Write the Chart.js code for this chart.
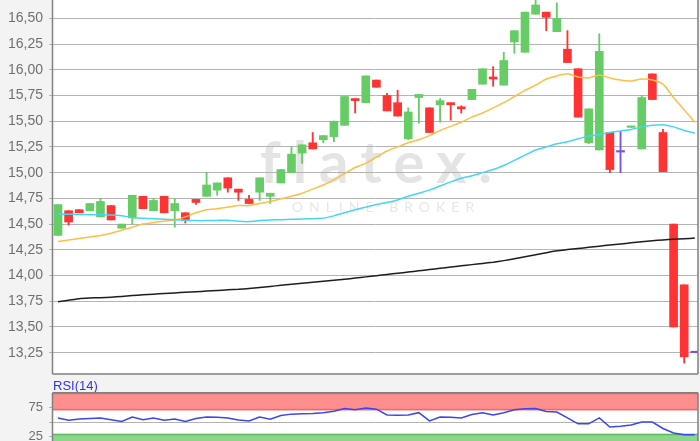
<!DOCTYPE html>
<html>
<head>
<meta charset="utf-8">
<script src="https://cdn.jsdelivr.net/npm/chart.js@4.4.1/dist/chart.umd.min.js"></script>
<style>
  html, body { margin: 0; padding: 0; background: #f3f3f3; overflow: hidden; width: 700px; height: 441px; }
  #main { position: absolute; left: 0; top: 0; }
  #rsi { position: absolute; left: 0; top: 378px; }
</style>
</head>
<body>
<canvas id="main" width="700" height="380"></canvas>
<canvas id="rsi" width="700" height="80"></canvas>
<script>
// daily candles, oldest first
const opens = [
  14.39, 14.63, 14.64, 14.63, 14.57, 14.68, 14.46, 14.56, 14.77, 14.63,
  14.77, 14.63, 14.61, 14.74, 14.77, 14.83, 14.95, 14.84, 14.74, 14.81,
  14.77, 14.90, 15.00, 15.19, 15.29, 15.32, 15.35, 15.46, 15.72, 15.68,
  15.90, 15.75, 15.68, 15.33, 15.73, 15.63, 15.66, 15.68, 15.64, 15.71,
  15.86, 15.93, 15.85, 16.27, 16.17, 16.54, 16.56, 16.37, 16.20, 16.01,
  15.29, 15.22, 15.39, 15.20, 15.44, 15.23, 15.96, 15.39, 14.50, 13.91,
  13.25
];
const highs = [
  14.69, 14.63, 14.64, 14.70, 14.75, 14.68, 14.50, 14.78, 14.77, 14.75,
  14.77, 14.75, 14.61, 14.74, 15.00, 14.90, 14.95, 14.84, 14.78, 14.95,
  14.80, 15.03, 15.25, 15.27, 15.39, 15.36, 15.50, 15.74, 15.72, 15.94,
  15.90, 15.77, 15.80, 15.63, 15.76, 15.63, 15.72, 15.68, 15.65, 15.81,
  16.01, 16.03, 16.17, 16.38, 16.56, 16.72, 16.56, 16.65, 16.38, 16.01,
  15.62, 16.35, 15.39, 15.40, 15.45, 15.75, 15.96, 15.42, 14.50, 13.91,
  13.25
];
const lows = [
  14.39, 14.49, 14.61, 14.63, 14.57, 14.54, 14.46, 14.50, 14.65, 14.63,
  14.61, 14.47, 14.51, 14.69, 14.77, 14.78, 14.81, 14.73, 14.70, 14.73,
  14.70, 14.90, 15.00, 15.09, 15.23, 15.29, 15.30, 15.46, 15.58, 15.68,
  15.83, 15.60, 15.55, 15.32, 15.48, 15.39, 15.49, 15.51, 15.58, 15.71,
  15.86, 15.84, 15.85, 16.16, 16.17, 16.54, 16.38, 16.37, 16.07, 15.54,
  15.28, 15.22, 15.00, 15.00, 15.44, 15.23, 15.71, 15.01, 13.50, 13.15,
  13.25
];
const closes = [
  14.69, 14.52, 14.61, 14.70, 14.72, 14.54, 14.50, 14.78, 14.65, 14.73,
  14.61, 14.70, 14.54, 14.71, 14.88, 14.90, 14.85, 14.81, 14.70, 14.95,
  14.80, 15.03, 15.18, 15.27, 15.23, 15.36, 15.50, 15.74, 15.70, 15.94,
  15.83, 15.60, 15.55, 15.59, 15.76, 15.39, 15.70, 15.66, 15.62, 15.81,
  16.01, 15.91, 16.09, 16.38, 16.56, 16.63, 16.51, 16.50, 16.07, 15.54,
  15.62, 16.18, 15.03, 15.20, 15.45, 15.73, 15.71, 15.01, 13.50, 13.21,
  13.25
];

// moving averages
const ma20 = [
  14.33, 14.345, 14.36, 14.375, 14.39, 14.41, 14.44, 14.47, 14.50, 14.515,
  14.53, 14.54, 14.57, 14.61, 14.64, 14.65, 14.665, 14.68, 14.68, 14.70,
  14.72, 14.745, 14.77, 14.80, 14.84, 14.88, 14.93, 14.99, 15.05, 15.09,
  15.15, 15.21, 15.25, 15.29, 15.32, 15.36, 15.41, 15.45, 15.49, 15.54,
  15.58, 15.63, 15.68, 15.74, 15.80, 15.85, 15.91, 15.94, 15.96, 15.93,
  15.92, 15.95, 15.92, 15.90, 15.89, 15.91, 15.90, 15.86, 15.73, 15.61,
  15.49
];
const ma38 = [
  14.595, 14.595, 14.594, 14.592, 14.590, 14.588, 14.58, 14.565, 14.557, 14.553,
  14.548, 14.543, 14.538, 14.534, 14.534, 14.536, 14.538, 14.528, 14.524, 14.535,
  14.54, 14.543, 14.546, 14.55, 14.553, 14.558, 14.58, 14.61, 14.64, 14.665,
  14.69, 14.71, 14.735, 14.77, 14.80, 14.83, 14.87, 14.91, 14.945, 14.97,
  15.00, 15.03, 15.07, 15.12, 15.17, 15.22, 15.25, 15.28, 15.30, 15.33,
  15.355, 15.37, 15.39, 15.405, 15.42, 15.445, 15.46, 15.465, 15.445, 15.41,
  15.385
];
const ma200 = [
  13.746, 13.76, 13.775, 13.781, 13.785, 13.79, 13.797, 13.805, 13.813, 13.819,
  13.825, 13.831, 13.838, 13.843, 13.849, 13.855, 13.861, 13.866, 13.874, 13.884,
  13.894, 13.905, 13.915, 13.925, 13.935, 13.945, 13.955, 13.965, 13.975, 13.987,
  13.999, 14.011, 14.022, 14.034, 14.046, 14.058, 14.07, 14.082, 14.094, 14.106,
  14.118, 14.13, 14.145, 14.163, 14.183, 14.203, 14.222, 14.24, 14.252, 14.263,
  14.274, 14.285, 14.297, 14.307, 14.318, 14.328, 14.338, 14.346, 14.352, 14.358,
  14.364
];

// RSI(14)
const rsi14 = [
  57, 53, 55, 56, 57, 54, 51, 58.5, 54, 57,
  53, 55, 51, 56, 58.5, 58, 57, 53.5, 52, 58.5,
  55, 61, 63.5, 64, 64.5, 66, 68.5, 73, 71, 74,
  72, 62, 61.5, 62, 66, 52, 58.5, 58, 57, 63,
  66, 62, 66, 71, 72.5, 73, 68, 67, 57, 47,
  47, 57, 41.5, 43, 45, 50, 50, 39, 31.5, 28.3,
  28.3
];

const priceTicks = [13.25, 13.5, 13.75, 14, 14.25, 14.5, 14.75, 15, 15.25, 15.5, 15.75, 16, 16.25, 16.5];
const rsiTicks = [25, 50, 75];
const rsiOverbought = [70, 100];
const rsiOversold = [0, 30];

const GREEN = "#66cc66";
const RED = "#ff3333";
const DOJI = "#7a4fe0";
const FONT = "'Liberation Sans', Arial, sans-serif";

const candleColor = (i) =>
  closes[i] > opens[i] ? GREEN : closes[i] < opens[i] ? RED : DOJI;
const colors = closes.map((_, i) => candleColor(i));
const bodies = opens.map((o, i) => ({ x: i, y: [o, closes[i]] }));
const wicks = lows.map((l, i) => ({ x: i, y: [l, highs[i]] }));
const asPoints = (arr) => arr.map((v, i) => ({ x: i, y: v }));

const xRange = { type: "linear", min: -0.47, max: 60.3, offset: false, display: false };

const fixLeftAxis = (s) => {
  s.width = 53;
  s.paddingTop = 0;
  s.paddingBottom = 0;
};

const backdrop = {
  id: "backdrop",
  beforeDraw(chart, args, opts) {
    const { ctx, chartArea: a } = chart;
    ctx.save();
    ctx.fillStyle = "#f3f3f3";
    ctx.fillRect(0, 0, chart.width, chart.height);
    ctx.fillStyle = "#ffffff";
    ctx.fillRect(a.left, a.top, a.right - a.left, a.bottom - a.top);
    if (opts.watermark) {
      ctx.fillStyle = "rgba(205,205,205,0.55)";
      ctx.textAlign = "center";
      ctx.textBaseline = "alphabetic";
      ctx.font = "bold 58px Lato, sans-serif";
      ctx.letterSpacing = "12px";
      ctx.fillText("flatex.", 382, 183);
      ctx.fillStyle = "rgba(215,215,215,0.6)";
      ctx.font = "14px Lato, sans-serif";
      ctx.letterSpacing = "6px";
      ctx.fillText("ONLINE BROKER", 386, 212);
    }
    ctx.restore();
  },
};

const frame = {
  id: "frame",
  afterDraw(chart, args, opts) {
    const { ctx, chartArea: a } = chart;
    ctx.save();
    ctx.strokeStyle = "#808080";
    ctx.lineWidth = 1.5;
    ctx.beginPath();
    if (opts.top) {
      ctx.moveTo(a.left - 0.5, a.top);
      ctx.lineTo(a.right, a.top);
    }
    ctx.moveTo(a.left - 0.5, a.top);
    ctx.lineTo(a.left - 0.5, a.bottom);
    ctx.moveTo(a.right, a.top);
    ctx.lineTo(a.right, a.bottom);
    if (opts.bottom) {
      ctx.moveTo(a.left - 0.5, a.bottom);
      ctx.lineTo(a.right, a.bottom);
    }
    ctx.stroke();
    ctx.restore();
  },
};

const lineSet = (data, color) => ({
  type: "line",
  data: asPoints(data),
  borderColor: color,
  borderWidth: 1.5,
  pointRadius: 0,
  tension: 0.2,
});

new Chart(document.getElementById("main"), {
  type: "bar",
  data: {
    datasets: [
      lineSet(ma200, "#1e1e1e"),
      lineSet(ma38, "#45d6f5"),
      lineSet(ma20, "#ffbe45"),
      {
        data: bodies,
        backgroundColor: colors,
        borderWidth: 0,
        barThickness: 8,
        minBarLength: 1.5,
        grouped: false,
      },
      {
        data: wicks,
        backgroundColor: colors,
        borderWidth: 0,
        barThickness: 1.2,
        grouped: false,
      },
    ],
  },
  options: {
    responsive: false,
    animation: false,
    layout: { padding: { left: 0, top: 0, right: 2, bottom: 6 } },
    plugins: {
      legend: { display: false },
      tooltip: { enabled: false },
      backdrop: { watermark: true },
      frame: { top: false, bottom: true },
    },
    scales: {
      x: xRange,
      y: {
        min: 13.043,
        max: 16.678,
        afterFit: fixLeftAxis,
        afterBuildTicks: (s) => {
          s.ticks = priceTicks.map((v) => ({ value: v }));
        },
        grid: { color: "#b4b4b4", lineWidth: 1, tickLength: 4 },
        border: { display: false },
        ticks: {
          padding: 6,
          color: "#707070",
          font: { family: FONT, size: 14 },
          callback: (v) => v.toFixed(2).replace(".", ","),
        },
      },
    },
  },
  plugins: [backdrop, frame],
});

const rsiBands = {
  id: "rsiBands",
  beforeDatasetsDraw(chart) {
    const { ctx, chartArea: a, scales } = chart;
    const y = scales.y;
    const band = (range, fill, edge) => {
      const top = y.getPixelForValue(range[1]);
      const bot = y.getPixelForValue(range[0]);
      ctx.fillStyle = fill;
      ctx.fillRect(a.left, top, a.right - a.left, bot - top);
      ctx.fillStyle = edge;
      ctx.fillRect(a.left, top, a.right - a.left, 1.5);
      ctx.fillRect(a.left, bot - 1.5, a.right - a.left, 1.5);
    };
    ctx.save();
    band(rsiOverbought, "#ff8f8f", "#e27070");
    band(rsiOversold, "#8cd68c", "#5fbb5f");
    ctx.fillStyle = "#3333ee";
    ctx.font = "13px " + FONT;
    ctx.textBaseline = "alphabetic";
    ctx.fillText("RSI(14)", a.left, a.top - 3);
    ctx.restore();
  },
};

new Chart(document.getElementById("rsi"), {
  type: "line",
  data: {
    datasets: [
      {
        data: asPoints(rsi14),
        borderColor: "#3a46ee",
        borderWidth: 1.5,
        pointRadius: 0,
        tension: 0,
      },
    ],
  },
  options: {
    responsive: false,
    animation: false,
    layout: { padding: { left: 0, top: 14.7, right: 2, bottom: 6.6 } },
    plugins: {
      legend: { display: false },
      tooltip: { enabled: false },
      backdrop: { watermark: false },
      frame: { top: true, bottom: false },
    },
    scales: {
      x: xRange,
      y: {
        min: 0,
        max: 100,
        afterFit: fixLeftAxis,
        afterBuildTicks: (s) => {
          s.ticks = rsiTicks.map((v) => ({ value: v }));
        },
        grid: { color: "#b4b4b4", lineWidth: 1, tickLength: 4 },
        border: { display: false },
        ticks: {
          padding: 6,
          color: "#707070",
          font: { family: FONT, size: 13 },
          callback: (v) => (v === 50 ? "" : String(v)),
        },
      },
    },
  },
  plugins: [backdrop, rsiBands, frame],
});
</script>
</body>
</html>
